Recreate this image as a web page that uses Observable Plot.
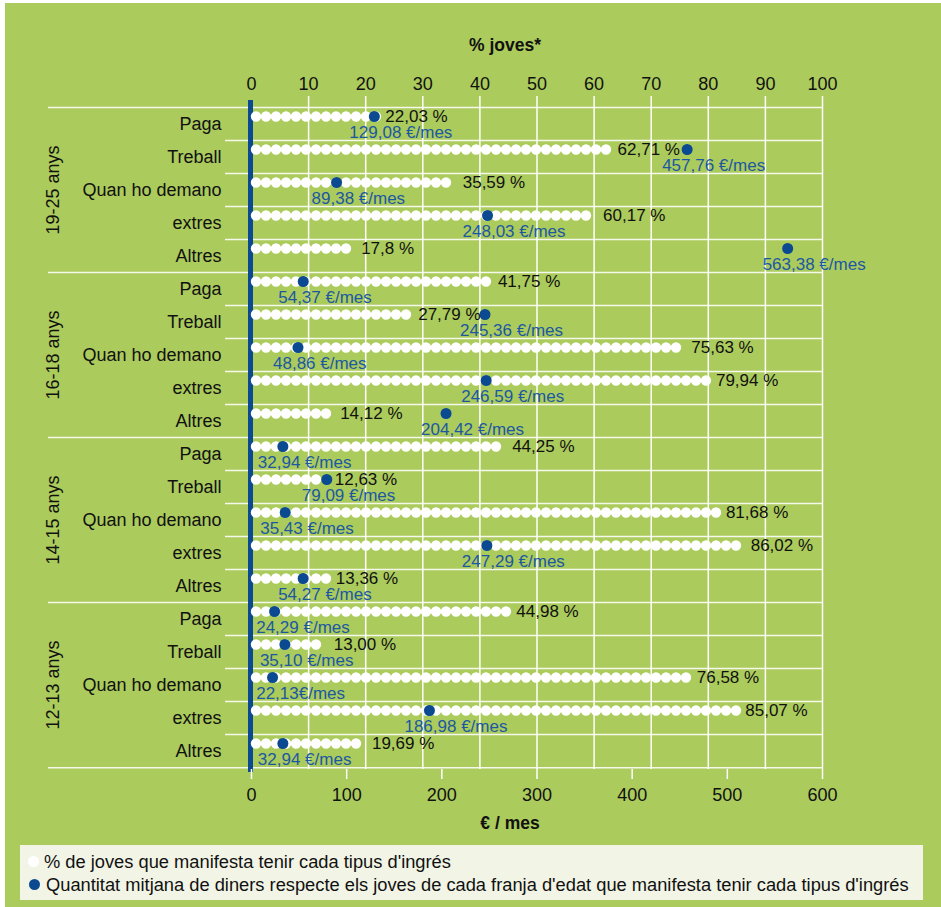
<!DOCTYPE html>
<html><head><meta charset="utf-8">
<script src="https://cdn.jsdelivr.net/npm/d3@7"></script>
<script src="https://cdn.jsdelivr.net/npm/@observablehq/plot@0.6"></script>
<style>
body{margin:0;background:#fff;}
#wrap{position:absolute;left:5px;top:3px;width:936px;height:904px;background:#abcb5c;font-family:"Liberation Sans",Arial,sans-serif;overflow:hidden;}
#chart{position:absolute;left:0;top:0;}
#legend{position:absolute;left:15px;top:842px;width:903px;height:55px;background:#f2f5e6;font-size:18.3px;color:#111;}
#legend .row{position:absolute;left:0;height:22px;line-height:22px;white-space:nowrap;}
#legend .b{position:absolute;width:11px;height:11px;border-radius:50%;top:5px;}
</style></head>
<body><div id="wrap"><div id="chart"></div>
<div id="legend">
  <div class="row" style="top:6px;left:0"><span class="b" style="left:8px;background:#fff"></span><span style="position:absolute;left:24px">% de joves que manifesta tenir cada tipus d'ingrés</span></div>
  <div class="row" style="top:29px;left:0"><span class="b" style="left:9px;background:#0b4a91"></span><span style="position:absolute;left:26px">Quantitat mitjana de diners respecte els joves de cada franja d'edat que manifesta tenir cada tipus d'ingrés</span></div>
</div></div>
<script>
const groups = ["19-25 anys", "16-18 anys", "14-15 anys", "12-13 anys"];
const categories = ["Paga", "Treball", "Quan ho demano", "extres", "Altres"];

const pct1925 = ["22,03 %", "62,71 %", "35,59 %", "60,17 %", "17,8 %"];
const eur1925 = ["129,08 €/mes", "457,76 €/mes", "89,38 €/mes", "248,03 €/mes", "563,38 €/mes"];
const pct1618 = ["41,75 %", "27,79 %", "75,63 %", "79,94 %", "14,12 %"];
const eur1618 = ["54,37 €/mes", "245,36 €/mes", "48,86 €/mes", "246,59 €/mes", "204,42 €/mes"];
const pct1415 = ["44,25 %", "12,63 %", "81,68 %", "86,02 %", "13,36 %"];
const eur1415 = ["32,94 €/mes", "79,09 €/mes", "35,43 €/mes", "247,29 €/mes", "54,27 €/mes"];
const pct1213 = ["44,98 %", "13,00 %", "76,58 %", "85,07 %", "19,69 %"];
const eur1213 = ["24,29 €/mes", "35,10 €/mes", "22,13€/mes", "186,98 €/mes", "32,94 €/mes"];

const pctTicks = [0, 10, 20, 30, 40, 50, 60, 70, 80, 90, 100];
const eurTicks = [0, 100, 200, 300, 400, 500, 600];
const eurMax = 600; // € axis spans the same width as 0–100 %

const num = s => parseFloat(s.replace(",", "."));
const sets = [[pct1925, eur1925], [pct1618, eur1618], [pct1415, eur1415], [pct1213, eur1213]];
const rows = [];
groups.forEach((g, gi) => categories.forEach((c, i) => {
  const [pl, el] = sets[gi];
  rows.push({key: g + "|" + c, group: g, cat: c, pctLabel: pl[i], eurLabel: el[i], pct: num(pl[i]), eur: num(el[i])});
}));
const toX = e => e / eurMax * 100;

const W = 936, H = 840, mL = 246, mR = 119, mT = 101, mB = 74;
const bw = (H - mT - mB) / rows.length;
const BLUE = "#0b4a91", TXTBLUE = "#1c58a2", SEP = "rgba(255,255,255,0.88)";

const plot = Plot.plot({
  width: W, height: H,
  marginLeft: mL, marginRight: mR, marginTop: mT, marginBottom: mB,
  style: {background: "transparent", fontFamily: "'Liberation Sans', Arial, sans-serif", fontSize: "17.5px", color: "#111", overflow: "visible"},
  x: {domain: [0, 100]},
  y: {type: "band", domain: rows.map(d => d.key), padding: 0},
  marks: [
    Plot.ruleX(pctTicks.slice(1), {stroke: "white", strokeWidth: 1.5, insetTop: -8}),
    Plot.ruleY(rows.filter(d => d.cat !== "Paga"), {y: "key", dy: -bw / 2, stroke: SEP, strokeWidth: 1.5, insetLeft: -26}),
    Plot.ruleY(rows.filter(d => d.cat === "Paga"), {y: "key", dy: -bw / 2, stroke: SEP, strokeWidth: 1.5, insetLeft: -203}),
    Plot.ruleY(rows.slice(-1), {y: "key", dy: bw / 2, stroke: SEP, strokeWidth: 1.5, insetLeft: -203}),
    Plot.ruleX([0], {stroke: BLUE, strokeWidth: 5, dx: -1, insetTop: -4, insetBottom: -3}),
    Plot.ruleY(rows, {y: "key", x1: 0, x2: "pct", dy: -7.5, stroke: "white", strokeWidth: 10.4,
      strokeLinecap: "round", strokeDasharray: "0 10", strokeDashoffset: -5}),
    Plot.dot(rows, {x: d => toX(d.eur), y: "key", dy: -7.5, r: 5.5, fill: BLUE}),
    Plot.text(rows, {x: d => { const e = toX(d.eur); return (e > d.pct - 2 && e < d.pct + 3) ? Math.max(e, d.pct) : d.pct; },
      y: "key", dy: -7.5, dx: 8, text: "pctLabel", textAnchor: "start", fill: "#111", fontSize: 17}),
    Plot.text(rows, {x: d => Math.max(toX(d.eur), 5.2), y: "key", dy: 8.5, dx: -25, text: "eurLabel", textAnchor: "start", fill: TXTBLUE, fontSize: 17}),
    Plot.text(rows.filter(d => d.cat === "Quan ho demano"), {y: "key", text: "group", frameAnchor: "left", textAnchor: "middle", dx: -198, rotate: -90, fontSize: 18, fill: "#111"}),
    Plot.axisY({tickSize: 0, tickPadding: 30, tickFormat: k => k.split("|")[1], fontSize: 18, label: null}),
    Plot.axisX(pctTicks, {anchor: "top", tickSize: 0, tickPadding: 15, fontSize: 18, label: null}),
    Plot.axisX(eurTicks.map(toX), {anchor: "bottom", tickSize: 10, stroke: "white", strokeWidth: 1.5, tickPadding: 9,
      tickFormat: v => Math.round(v * eurMax / 100), fontSize: 18, label: null}),
    Plot.text(["% joves*"], {frameAnchor: "top", dy: -66, dx: -32, text: d => d, fontWeight: "bold", fontSize: 17.5, fill: "#111"}),
    Plot.text(["€ / mes"], {frameAnchor: "bottom", dy: 59, dx: -27, text: d => d, fontWeight: "bold", fontSize: 17.5, fill: "#111"})
  ]
});
document.getElementById("chart").appendChild(plot);
</script>
</body></html>
